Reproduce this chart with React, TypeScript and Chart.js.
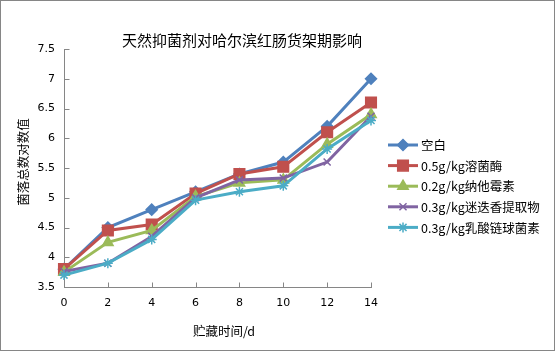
import React, { useEffect, useRef } from "react";
import { Chart, registerables } from "chart.js";
import { drawPoint } from "chart.js/helpers";

Chart.register(...registerables);

const days = ["0", "2", "4", "6", "8", "10", "12", "14"];
const seriesNames = [
  "空白",
  "0.5g/kg溶菌酶",
  "0.2g/kg纳他霉素",
  "0.3g/kg迷迭香提取物",
  "0.3g/kg乳酸链球菌素",
];
const blank = [3.8, 4.5, 4.8, 5.1, 5.4, 5.6, 6.2, 7.0];
const lysozyme = [3.8, 4.45, 4.55, 5.07, 5.4, 5.52, 6.1, 6.6];
const natamycin = [3.75, 4.25, 4.45, 5.02, 5.25, 5.3, 5.9, 6.4];
const rosemary = [3.76, 3.9, 4.35, 5.0, 5.3, 5.33, 5.6, 6.37];
const nisin = [3.7, 3.9, 4.3, 4.96, 5.1, 5.2, 5.82, 6.3];
const seriesValues = [blank, lysozyme, natamycin, rosemary, nisin];

const colors = ["#4F81BD", "#C0504D", "#9BBB59", "#8064A2", "#4BACC6"];
const markers = ["rectRot", "rect", "triangle", "crossRot", "star"];
const markerRadius = [5.5, 7.5, 6, 5, 5];

const titleText = "天然抑菌剂对哈尔滨红肠货架期影响";
const yTitle = "菌落总数对数值";
const xTitle = "贮藏时间/d";

const W = 555;
const H = 351;
const CJK = '"Noto Sans CJK SC", "DejaVu Sans", sans-serif';
const AXIS_COLOR = "#868686";

const decorPlugin = {
  id: "decor",
  afterDraw(chart: any) {
    const ctx = chart.ctx;
    const xs = chart.scales.x;
    const ys = chart.scales.y;
    ctx.save();
    // inward tick marks
    ctx.strokeStyle = AXIS_COLOR;
    ctx.lineWidth = 1;
    ctx.beginPath();
    ys.ticks.forEach((_t: any, i: number) => {
      const y = Math.round(ys.getPixelForTick(i)) + 0.5;
      const x0 = Math.round(ys.right) + 0.5;
      ctx.moveTo(x0, y);
      ctx.lineTo(x0 + 5, y);
    });
    xs.ticks.forEach((_t: any, i: number) => {
      const x = Math.round(xs.getPixelForTick(i)) + 0.5;
      const y0 = Math.round(xs.top) + 0.5;
      ctx.moveTo(x, y0);
      ctx.lineTo(x, y0 - 5);
    });
    ctx.stroke();

    // chart title
    ctx.fillStyle = "#000";
    ctx.textAlign = "center";
    ctx.textBaseline = "middle";
    ctx.font = `15px ${CJK}`;
    ctx.fillText(titleText, 242, 40);

    // x axis title
    ctx.font = `12.5px ${CJK}`;
    ctx.fillText(xTitle, 224, 331);

    // y axis title
    ctx.save();
    ctx.translate(23, 162);
    ctx.rotate(-Math.PI / 2);
    ctx.fillText(yTitle, 0, 0);
    ctx.restore();

    // legend
    const rowY0 = 145;
    const rowGap = 20.6;
    ctx.textAlign = "left";
    ctx.font = `12.5px ${CJK}`;
    seriesNames.forEach((name, i) => {
      const y = rowY0 + i * rowGap;
      ctx.strokeStyle = colors[i];
      ctx.lineWidth = 3;
      ctx.beginPath();
      ctx.moveTo(388, y);
      ctx.lineTo(418, y);
      ctx.stroke();
      ctx.fillStyle = colors[i];
      ctx.strokeStyle = colors[i];
      ctx.lineWidth = 1.5;
      drawPoint(ctx, { pointStyle: markers[i], radius: markerRadius[i], rotation: 0, borderWidth: 1.5 }, 403, y);
      ctx.fillStyle = "#000";
      ctx.fillText(name, 421, y + 0.5);
    });

    // outer border
    ctx.strokeStyle = AXIS_COLOR;
    ctx.lineWidth = 1;
    ctx.strokeRect(0.5, 0.5, W - 1, H - 1);
    ctx.restore();
  },
};

export default function App() {
  const ref = useRef<HTMLCanvasElement>(null);
  useEffect(() => {
    if (!ref.current) return;
    const chart = new Chart(ref.current, {
      type: "line",
      data: {
        labels: days,
        datasets: seriesValues.map((vals, i) => ({
          label: seriesNames[i],
          data: vals,
          borderColor: colors[i],
          backgroundColor: colors[i],
          borderWidth: 3,
          pointStyle: markers[i] as any,
          pointRadius: markerRadius[i],
          pointBorderWidth: 1.5,
          pointBorderColor: colors[i],
          pointBackgroundColor: colors[i],
          tension: 0,
          fill: false,
          order: seriesValues.length - 1 - i,
        })),
      },
      options: {
        responsive: false,
        animation: false,
        layout: { padding: { top: 49, right: 184, left: 0, bottom: 0 } },
        plugins: {
          legend: { display: false },
          title: { display: false },
          tooltip: { enabled: false },
        },
        scales: {
          x: {
            type: "category",
            offset: false,
            grid: { display: true, drawOnChartArea: false, drawTicks: false },
            border: { display: true, color: AXIS_COLOR, width: 1 },
            ticks: {
              color: "#000",
              font: { family: "DejaVu Sans", size: 11 },
              padding: 10,
              maxRotation: 0,
            },
            afterFit: (s: any) => {
              s.height = 64;
            },
          },
          y: {
            min: 3.5,
            max: 7.5,
            grid: { display: true, drawOnChartArea: false, drawTicks: false },
            border: { display: true, color: AXIS_COLOR, width: 1 },
            ticks: {
              stepSize: 0.5,
              color: "#000",
              font: { family: "DejaVu Sans", size: 11 },
              padding: 9,
              callback: (v: any) => String(Number(v)),
            },
            afterFit: (s: any) => {
              s.width = 64;
            },
          },
        },
      },
      plugins: [decorPlugin],
    });
    return () => chart.destroy();
  }, []);
  return (
    <div style={{ position: "fixed", left: 0, top: 0, width: W, height: H, background: "#fff" }}>
      <canvas ref={ref} width={W} height={H} style={{ display: "block" }} />
    </div>
  );
}
